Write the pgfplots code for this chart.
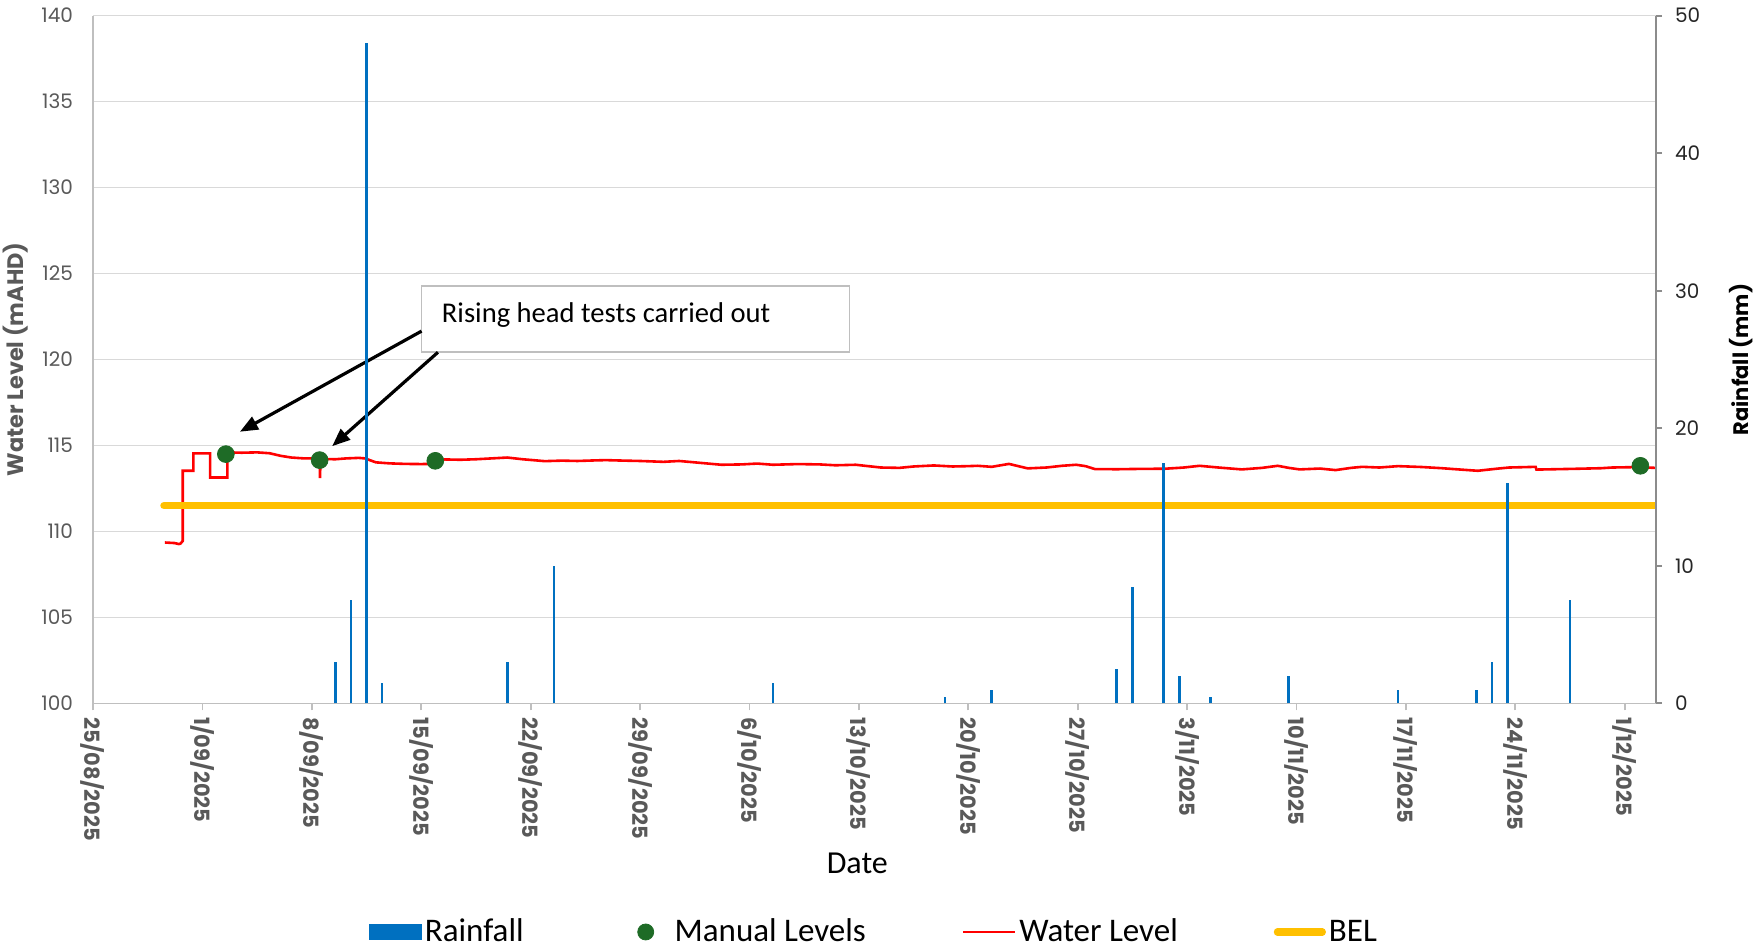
\documentclass[border=0pt]{standalone}
\usepackage{pgfplots}
\pgfplotsset{compat=1.18}
\usepackage{fontspec}
\setmainfont{Carlito}
\newfontfamily\popfont{Poppins}
\usetikzlibrary{arrows.meta}
\definecolor{rainblue}{HTML}{0070C0}
\definecolor{mangreen}{HTML}{1E6B26}
\definecolor{belyellow}{HTML}{FFC000}
\definecolor{gridgray}{HTML}{D9D9D9}
\definecolor{axisgray}{HTML}{BFBFBF}
\definecolor{rightgray}{HTML}{8C8C8C}
\definecolor{ticktext}{HTML}{595959}
\definecolor{rtext}{HTML}{262626}
\begin{document}
\begin{tikzpicture}
\begin{axis}[
  at={(0,0)}, anchor=south west,
  scale only axis, width=781.5pt, height=344pt,
  xmin=0, xmax=100, ymin=100, ymax=140,
  axis x line*=bottom, axis y line*=left,
  axis line style={draw=axisgray, line width=0.9pt},
  xtick={0,7,...,98},
  xticklabels={25/08/2025,1/09/2025,8/09/2025,15/09/2025,22/09/2025,29/09/2025,6/10/2025,13/10/2025,20/10/2025,27/10/2025,3/11/2025,10/11/2025,17/11/2025,24/11/2025,1/12/2025},
  x tick label style={rotate=-90, anchor=west, font=\popfont\bfseries\fontsize{10.5}{12}\selectfont, text=ticktext},
  x tick style={draw=axisgray, line width=0.9pt},
  tick align=outside, major tick length=3.5pt,
  ytick={100,105,...,140},
  y tick style={draw=none},
  y tick label style={font=\popfont\fontsize{10}{12}\selectfont, text=ticktext, xshift=-3pt},
  ymajorgrids, grid style={draw=gridgray, line width=0.8pt},
  /pgf/number format/assume math mode=true,
  ylabel={Water Level (mAHD)},
  ylabel style={at={(axis description cs:-0.0495,0.5)}, anchor=center, font=\popfont\bfseries\fontsize{11.2}{12}\selectfont, text=ticktext},
  xlabel={Date},
  xlabel style={at={(axis description cs:0.489,-0.2318)}, anchor=center, font=\fontsize{16}{18}\selectfont},
  legend style={at={(axis description cs:0.5,-0.3321)}, anchor=center, legend columns=4, draw=none, fill=none, font=\fontsize{16.5}{18}\selectfont, /tikz/every even column/.append style={column sep=46.5pt}, nodes={inner sep=1.5pt}},
]
\addlegendimage{legend image code/.code={\path[draw=none,fill=none] (0pt,0pt) -- (26pt,0pt);\fill[rainblue] (0pt,-3.6pt) rectangle (26pt,3.6pt);}}
\addlegendentry{Rainfall}
\addlegendimage{legend image code/.code={\path[draw=none,fill=none] (0pt,0pt) -- (26pt,0pt);\fill[mangreen] (13pt,0pt) circle (4pt);}}
\addlegendentry{Manual Levels}
\addlegendimage{legend image code/.code={\draw[red, line width=1.2pt] (0pt,0pt) -- (26pt,0pt);}}
\addlegendentry{Water Level}
\addlegendimage{legend image code/.code={\path[draw=none,fill=none] (0pt,0pt) -- (26pt,0pt);\draw[belyellow, line width=3.7pt, line cap=round] (1.8pt,0pt) -- (24.2pt,0pt);}}
\addlegendentry{BEL}

\addplot[only marks, mark=*, mark size=4.2pt, mangreen, forget plot] coordinates {(8.5,114.5) (14.5,114.15) (21.9,114.11) (99,113.82)};

\addplot[red, line width=1.3pt, mark=none, forget plot] coordinates {
(4.6,109.36) (5.2,109.33) (5.5,109.27) (5.6,109.3) (5.74,109.45) (5.74,113.53) (6.42,113.53) (6.42,114.54) (7.49,114.54) (7.49,113.14) (8.6,113.14) (8.6,114.95) (8.65,114.6)
(9.5,114.58) (10.5,114.6) (11.3,114.55) (12.0,114.4) (12.7,114.3) (13.5,114.25) (14.5,114.25) (14.52,113.1) (14.56,114.22) (15.5,114.2) (16.2,114.25) (17.0,114.28) (17.4,114.25) (18.1,114.02) (19.0,113.96) (20.0,113.93) (21.0,113.92) (21.7,113.93) (21.95,114.12) (22.5,114.19) (23.5,114.17) (24.5,114.2) (25.5,114.25) (26.5,114.3) (27.5,114.2) (28.9,114.09) (30.0,114.12) (31.0,114.1) (32.0,114.13) (32.8,114.15) (34.0,114.12) (35.0,114.1) (36.5,114.05) (37.5,114.1) (38.5,114.02) (40.2,113.88) (41.5,113.9) (42.5,113.95) (43.5,113.88) (45.1,113.92) (46.5,113.9) (47.5,113.85) (48.8,113.88) (50.4,113.72) (51.6,113.7) (52.5,113.78) (53.8,113.84) (55.0,113.78) (56.0,113.8) (56.6,113.82) (57.5,113.76) (58.6,113.93) (59.2,113.8) (59.8,113.67) (61.0,113.72) (62.0,113.82) (62.9,113.88) (63.5,113.8) (64.1,113.63) (65.5,113.62) (67.0,113.64) (68.6,113.65) (69.8,113.72) (70.8,113.82) (72.0,113.72) (73.5,113.61) (74.8,113.7) (75.8,113.82) (76.5,113.7) (77.2,113.61) (78.5,113.66) (79.5,113.57) (80.5,113.7) (81.2,113.76) (82.3,113.72) (83.5,113.8) (85.0,113.75) (86.3,113.68) (87.5,113.6) (88.6,113.53) (89.8,113.65) (90.6,113.72) (91.5,113.74) (92.3,113.76) (92.35,113.6) (93.5,113.62) (95.1,113.65) (96.5,113.68) (97.2,113.72) (98.5,113.74) (100,113.7)
};

\addplot[belyellow, line width=3.7pt, line cap=round, mark=none, forget plot] coordinates {(4.54,111.5) (100,111.5)};

\draw[axisgray, line width=0.8pt, fill=white] (axis cs:21.02,120.42) rectangle (axis cs:48.41,124.26);
\node[anchor=west, inner sep=0pt, font=\fontsize{14.3}{16}\selectfont] at (axis cs:22.3,122.57) {Rising head tests carried out};
\draw[black, line width=1.6pt, -{Triangle[length=9pt,width=7pt]}] (axis cs:21.02,121.65) -- (axis cs:9.4,115.8);
\draw[black, line width=1.6pt, -{Triangle[length=9pt,width=7pt]}] (axis cs:22.07,120.42) -- (axis cs:15.3,114.96);
\end{axis}

\begin{axis}[
  at={(0,0)}, anchor=south west,
  scale only axis, width=781.5pt, height=344pt,
  xmin=0, xmax=100, ymin=0, ymax=50,
  axis x line=none, axis y line*=right,
  axis line style={draw=rightgray, line width=1pt},
  ytick={0,10,...,50},
  tick align=outside, major tick length=3pt,
  y tick style={draw=rightgray, line width=1pt},
  y tick label style={font=\popfont\fontsize{10}{12}\selectfont, text=rtext, xshift=3pt},
  /pgf/number format/assume math mode=true,
  ylabel={Rainfall (mm)},
  ylabel style={at={(axis description cs:1.0544,0.5)}, anchor=center, font=\popfont\bfseries\fontsize{10.5}{12}\selectfont, text=black},
]
\addplot[ycomb, rainblue, line width=1.3pt, mark=none] coordinates {
(15.5,3) (16.5,7.5) (17.5,48) (18.5,1.5) (26.5,3) (29.5,10) (43.5,1.5) (54.5,0.5) (57.5,1) (65.5,2.5) (66.5,8.5) (68.5,17.5) (69.5,2) (71.5,0.5) (76.5,2) (83.5,1) (88.5,1) (89.5,3) (90.5,16) (94.5,7.5)
};
\end{axis}
\pgfresetboundingbox
\useasboundingbox (-46.5pt,-121.75pt) rectangle (830pt,351.75pt);
\end{tikzpicture}
\end{document}
